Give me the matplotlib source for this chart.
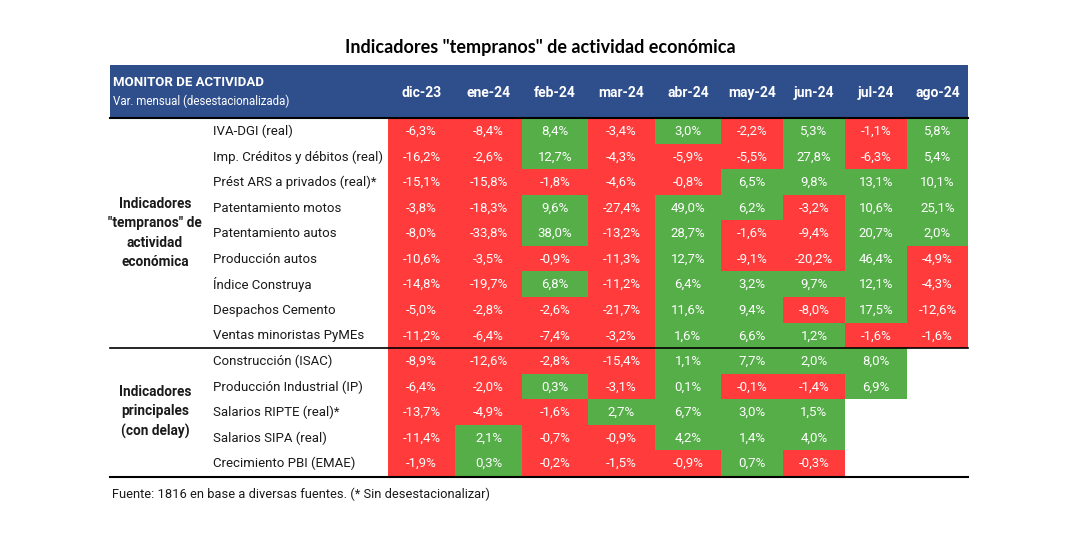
import matplotlib

matplotlib.use("Agg")
import matplotlib.pyplot as plt
import numpy as np
from matplotlib.colors import ListedColormap

plt.rcParams["font.family"] = ["Roboto", "DejaVu Sans"]

# datos
meses = ["dic-23", "ene-24", "feb-24", "mar-24", "abr-24", "may-24", "jun-24", "jul-24", "ago-24"]

indicadores = [
    "IVA-DGI (real)",
    "Imp. Créditos y débitos (real)",
    "Prést ARS a privados (real)*",
    "Patentamiento motos",
    "Patentamiento autos",
    "Producción autos",
    "Índice Construya",
    "Despachos Cemento",
    "Ventas minoristas PyMEs",
    "Construcción (ISAC)",
    "Producción Industrial (IP)",
    "Salarios RIPTE (real)*",
    "Salarios SIPA (real)",
    "Crecimiento PBI (EMAE)",
]

grupos = [
    'Indicadores\n"tempranos" de\nactividad\neconómica',
    "Indicadores\nprincipales\n(con delay)",
]
filas_por_grupo = [9, 5]

nan = np.nan
valores = np.array([
    [-6.3, -8.4, 8.4, -3.4, 3.0, -2.2, 5.3, -1.1, 5.8],
    [-16.2, -2.6, 12.7, -4.3, -5.9, -5.5, 27.8, -6.3, 5.4],
    [-15.1, -15.8, -1.8, -4.6, -0.8, 6.5, 9.8, 13.1, 10.1],
    [-3.8, -18.3, 9.6, -27.4, 49.0, 6.2, -3.2, 10.6, 25.1],
    [-8.0, -33.8, 38.0, -13.2, 28.7, -1.6, -9.4, 20.7, 2.0],
    [-10.6, -3.5, -0.9, -11.3, 12.7, -9.1, -20.2, 46.4, -4.9],
    [-14.8, -19.7, 6.8, -11.2, 6.4, 3.2, 9.7, 12.1, -4.3],
    [-5.0, -2.8, -2.6, -21.7, 11.6, 9.4, -8.0, 17.5, -12.6],
    [-11.2, -6.4, -7.4, -3.2, 1.6, 6.6, 1.2, -1.6, -1.6],
    [-8.9, -12.6, -2.8, -15.4, 1.1, 7.7, 2.0, 8.0, nan],
    [-6.4, -2.0, 0.3, -3.1, 0.1, -0.1, -1.4, 6.9, nan],
    [-13.7, -4.9, -1.6, 2.7, 6.7, 3.0, 1.5, nan, nan],
    [-11.4, 2.1, -0.7, -0.9, 4.2, 1.4, 4.0, nan, nan],
    [-1.9, 0.3, -0.2, -1.5, -0.9, 0.7, -0.3, nan, nan],
])

# layout (pixeles)
W, H = 1080, 541
x_bordes = [388, 455, 522, 588, 655, 721, 783, 845, 907, 968]
y_top, y_bot = 118, 476
x_izq, x_der = 110, 968

ROJO = "#FF3B3B"
VERDE = "#55AE48"
AZUL = "#2E4E8C"

fig = plt.figure(figsize=(W / 100, H / 100), dpi=100)
ax = fig.add_axes([0, 0, 1, 1])
ax.set_xlim(0, W)
ax.set_ylim(H, 0)
ax.axis("off")

n = len(indicadores)
y_bordes = np.linspace(y_top, y_bot, n + 1)
signo = np.where(np.isnan(valores), np.nan, (valores >= 0).astype(float))
cmap = ListedColormap([ROJO, VERDE])
ax.pcolormesh(x_bordes, y_bordes, np.ma.masked_invalid(signo), cmap=cmap, vmin=0, vmax=1)

xc = [(a + b) / 2 for a, b in zip(x_bordes[:-1], x_bordes[1:])]
yc = (y_bordes[:-1] + y_bordes[1:]) / 2

for i in range(n):
    for j in range(len(meses)):
        v = valores[i, j]
        if np.isnan(v):
            continue
        ax.text(xc[j], yc[i] + 0.5, f"{v:.1f}%".replace(".", ","), color="white",
                ha="center", va="center", fontsize=9.5)
    ax.text(213, yc[i] + 0.5, indicadores[i], ha="left", va="center", fontsize=9.5, color="#1a1a1a")

# encabezado
ax.add_patch(plt.Rectangle((x_izq, 65), x_der - x_izq, y_top - 65, color=AZUL, lw=0))
ax.text(113, 83, "MONITOR DE ACTIVIDAD", color="white", fontweight="bold", fontsize=9.5,
        ha="left", va="center")
ax.text(113, 101, "Var. mensual (desestacionalizada)", color="white", fontsize=8.3,
        ha="left", va="center")
for j, m in enumerate(meses):
    ax.text(xc[j], 93, m, color="white", fontweight="bold", fontsize=10, ha="center", va="center")

# grupos
inicio = 0
for g, k in zip(grupos, filas_por_grupo):
    ymid = (y_bordes[inicio] + y_bordes[inicio + k]) / 2
    ax.text(155, ymid, g, ha="center", va="center", fontweight="bold", fontsize=9.8,
            color="#1a1a1a", linespacing=1.5)
    inicio += k

# lineas
ax.plot([x_izq, x_der], [y_top, y_top], color="black", lw=1.5)
ax.plot([x_izq, x_der], [y_bordes[9], y_bordes[9]], color="black", lw=1.2)
ax.plot([x_izq, x_der], [y_bot + 1, y_bot + 1], color="black", lw=1.5)

ax.text(540, 48, 'Indicadores "tempranos" de actividad económica', ha="center", va="center",
        fontsize=13, fontweight="bold", family=["Lato", "DejaVu Sans"])
ax.text(112, 494, "Fuente: 1816 en base a diversas fuentes. (* Sin desestacionalizar)",
        ha="left", va="center", fontsize=9.3, color="#1a1a1a")

fig.savefig("out.png", dpi=100)
plt.close()
